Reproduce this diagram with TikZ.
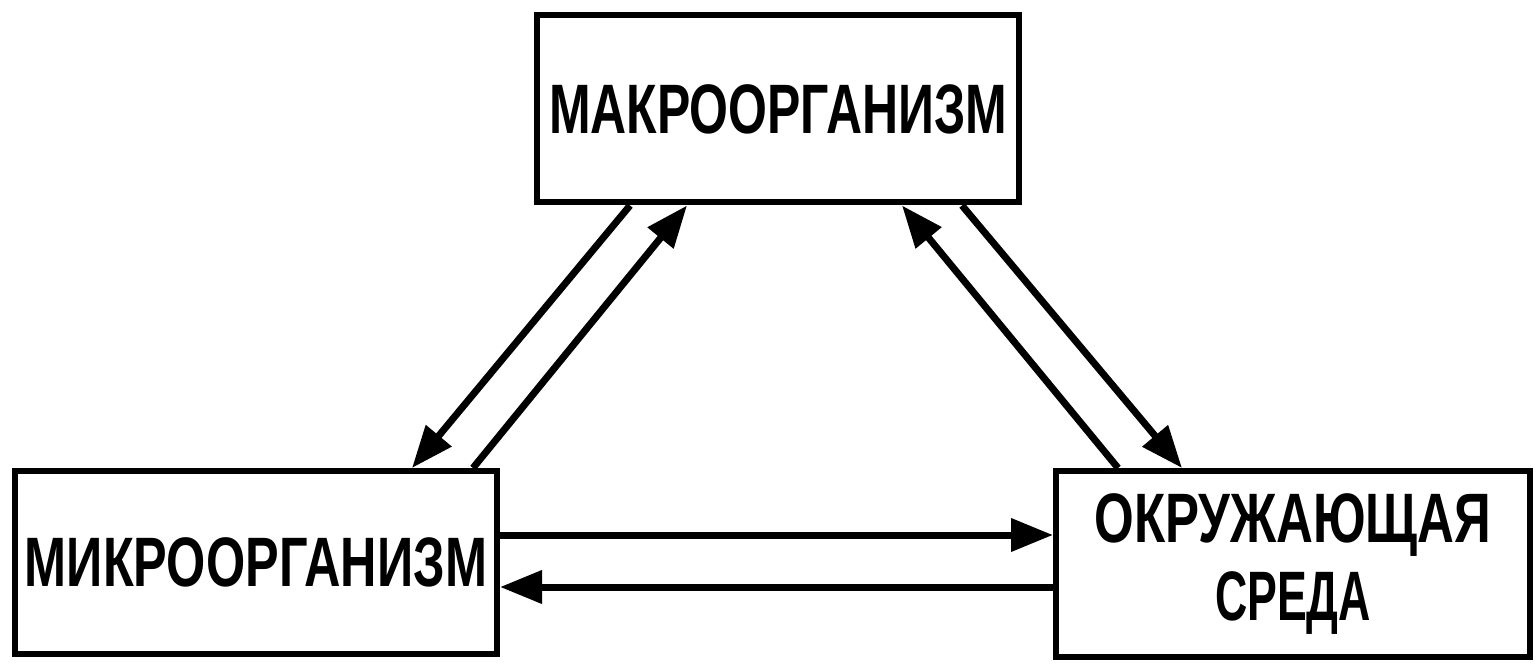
\documentclass[tikz,border=0pt]{standalone}
\usepackage{fontspec}
\setmainfont{Liberation Sans}
\usepackage{graphicx}
\usetikzlibrary{arrows.meta}
\newcommand\fitline[2]{\resizebox{#1}{\height}{#2}}
\begin{document}
\begin{tikzpicture}[x=1pt,y=-1pt,
  box/.style={draw,line width=6pt,inner sep=0pt,align=center,
    font=\fontsize{70}{76}\selectfont\bfseries},
  link/.style={line width=7pt,-{Triangle[length=42pt,width=32pt]}}]
\useasboundingbox (0,0) rectangle (1537,668);
\node[box,minimum width=482pt,minimum height=187pt] (macro) at (778,109)
  {\fitline{458pt}{МАКРООРГАНИЗМ}};
\node[box,minimum width=482pt,minimum height=183pt] (micro) at (256,562.5)
  {\fitline{462pt}{МИКРООРГАНИЗМ}};
\node[box,minimum width=474pt,minimum height=186pt] (env) at (1293,564)
  {\fitline{397pt}{ОКРУЖАЮЩАЯ}\\[2pt]\fitline{156pt}{СРЕДА}};
\coordinate (a1) at (630,0 |- macro.south);
\coordinate (a2) at (412,0 |- micro.north);
\coordinate (b1) at (473,0 |- micro.north);
\coordinate (b2) at (687,0 |- macro.south);
\coordinate (c1) at (1118,0 |- env.north);
\coordinate (c2) at (902,0 |- macro.south);
\coordinate (d1) at (962,0 |- macro.south);
\coordinate (d2) at (1182,0 |- env.north);
\coordinate (e1) at (micro.east |- 0,535);
\coordinate (e2) at (env.west |- 0,535);
\coordinate (f1) at (env.west |- 0,587);
\coordinate (f2) at (micro.east |- 0,587);
\draw[link] (a1) -- (a2);
\draw[link] (b1) -- (b2);
\draw[link] (c1) -- (c2);
\draw[link] (d1) -- (d2);
\draw[link] (e1) -- (e2);
\draw[link] (f1) -- (f2);
\end{tikzpicture}
\end{document}
